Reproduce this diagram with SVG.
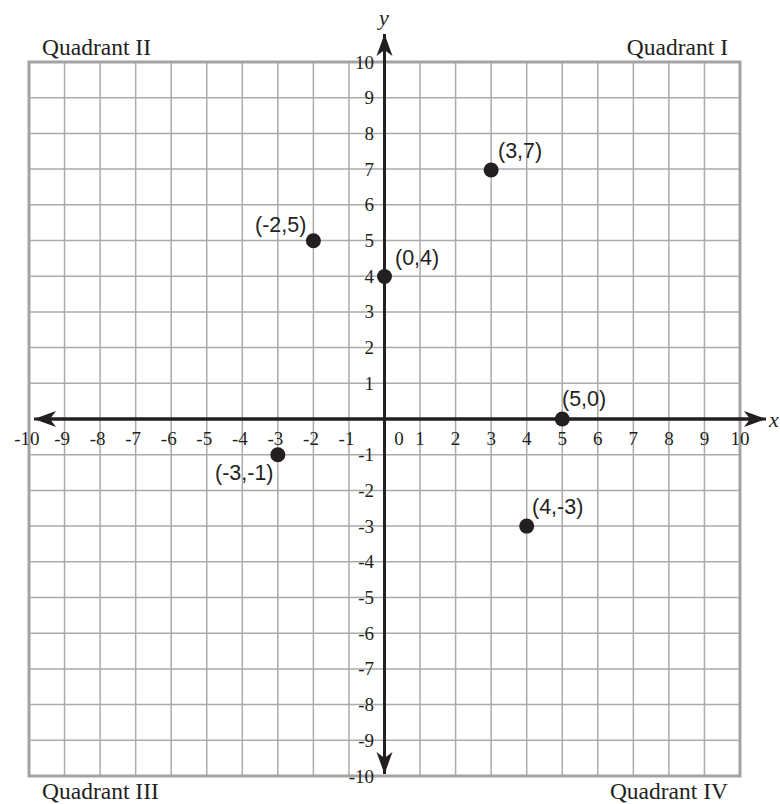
<svg xmlns="http://www.w3.org/2000/svg" width="780" height="804" viewBox="0 0 780 804">
<style>
.grid{stroke:#ababab;stroke-width:1.5;fill:none}
.border{stroke:#a3a3a3;stroke-width:3;fill:none}
.axis{stroke:#231f20;stroke-width:3;fill:none}
.tick{font-family:"Liberation Serif","Times New Roman",serif;font-size:19px;fill:#231f20}
.quad{font-family:"Liberation Serif","Times New Roman",serif;font-size:23.5px;fill:#231f20}
.var{font-family:"Liberation Serif","Times New Roman",serif;font-style:italic;font-size:22px;fill:#231f20}
.plabel{font-family:"Liberation Sans",Arial,sans-serif;font-size:21.5px;fill:#231f20}
.dot{fill:#231f20}
</style>
<defs>
<marker id="arr" viewBox="0 0 24 18" refX="22" refY="9" markerWidth="24" markerHeight="18" markerUnits="userSpaceOnUse" orient="auto">
<path d="M22,9 L0,1 L6,9 L0,17 Z" fill="#231f20"/>
</marker>
</defs>
<rect width="780" height="804" fill="#ffffff"/>
<g id="grid">
<path class="grid" d="M64.55,62V776M100.1,62V776M135.65,62V776M171.2,62V776M206.75,62V776M242.3,62V776M277.85,62V776M313.4,62V776M348.95,62V776M420.05,62V776M455.6,62V776M491.15,62V776M526.7,62V776M562.25,62V776M597.8,62V776M633.35,62V776M668.9,62V776M704.45,62V776"/>
<path class="grid" d="M29,97.7H740M29,133.4H740M29,169.1H740M29,204.8H740M29,240.5H740M29,276.2H740M29,311.9H740M29,347.6H740M29,383.3H740M29,454.7H740M29,490.4H740M29,526.1H740M29,561.8H740M29,597.5H740M29,633.2H740M29,668.9H740M29,704.6H740M29,740.3H740"/>
<rect class="border" x="29" y="62" width="711" height="714"/>
</g>
<g id="connectors">
<line class="axis" x1="50" y1="419" x2="766" y2="419" marker-end="url(#arr)"/>
<line class="axis" x1="750" y1="419" x2="34" y2="419" marker-end="url(#arr)"/>
<line class="axis" x1="384.5" y1="760" x2="384.5" y2="34" marker-end="url(#arr)"/>
<line class="axis" x1="384.5" y1="60" x2="384.5" y2="774" marker-end="url(#arr)"/>
</g>
<g id="x-labels" class="tick">
<text x="39.5" y="445" text-anchor="end">-10</text>
<text x="70" y="445" text-anchor="end">-9</text>
<text x="105.6" y="445" text-anchor="end">-8</text>
<text x="141.1" y="445" text-anchor="end">-7</text>
<text x="176.7" y="445" text-anchor="end">-6</text>
<text x="212.2" y="445" text-anchor="end">-5</text>
<text x="247.8" y="445" text-anchor="end">-4</text>
<text x="283.3" y="445" text-anchor="end">-3</text>
<text x="318.9" y="445" text-anchor="end">-2</text>
<text x="354.4" y="445" text-anchor="end">-1</text>
<text x="399" y="445" text-anchor="middle">0</text>
<text x="420.05" y="445" text-anchor="middle">1</text>
<text x="455.6" y="445" text-anchor="middle">2</text>
<text x="491.15" y="445" text-anchor="middle">3</text>
<text x="526.7" y="445" text-anchor="middle">4</text>
<text x="562.25" y="445" text-anchor="middle">5</text>
<text x="597.8" y="445" text-anchor="middle">6</text>
<text x="633.35" y="445" text-anchor="middle">7</text>
<text x="668.9" y="445" text-anchor="middle">8</text>
<text x="704.45" y="445" text-anchor="middle">9</text>
<text x="740" y="445" text-anchor="middle">10</text>
</g>
<g id="y-labels" class="tick" text-anchor="end">
<text x="374" y="68.5">10</text>
<text x="374" y="104.2">9</text>
<text x="374" y="139.9">8</text>
<text x="374" y="175.6">7</text>
<text x="374" y="211.3">6</text>
<text x="374" y="247">5</text>
<text x="374" y="282.7">4</text>
<text x="374" y="318.4">3</text>
<text x="374" y="354.1">2</text>
<text x="374" y="389.8">1</text>
<text x="374" y="461.2">-1</text>
<text x="374" y="496.9">-2</text>
<text x="374" y="532.6">-3</text>
<text x="374" y="568.3">-4</text>
<text x="374" y="604">-5</text>
<text x="374" y="639.7">-6</text>
<text x="374" y="675.4">-7</text>
<text x="374" y="711.1">-8</text>
<text x="374" y="746.8">-9</text>
<text x="374" y="782.5">-10</text>
</g>
<g id="axis-names" class="var">
<text x="384" y="25" text-anchor="middle">y</text>
<text x="769" y="427">x</text>
</g>
<g id="quadrants" class="quad">
<text x="42" y="55">Quadrant II</text>
<text x="728" y="55" text-anchor="end">Quadrant I</text>
<text x="42" y="799">Quadrant III</text>
<text x="728" y="799" text-anchor="end">Quadrant IV</text>
</g>
<g id="p-3-7"><circle class="dot" cx="491.15" cy="170" r="7.5"/><text class="plabel" x="498" y="158">(3,7)</text></g>
<g id="p-m2-5"><circle class="dot" cx="313.4" cy="240.8" r="7.5"/><text class="plabel" x="255" y="232">(-2,5)</text></g>
<g id="p-0-4"><circle class="dot" cx="384.5" cy="276.5" r="7.5"/><text class="plabel" x="395" y="265">(0,4)</text></g>
<g id="p-5-0"><circle class="dot" cx="562.25" cy="419" r="7.5"/><text class="plabel" x="562" y="406">(5,0)</text></g>
<g id="p-m3-m1"><circle class="dot" cx="277.85" cy="454.7" r="7.5"/><text class="plabel" x="215" y="480">(-3,-1)</text></g>
<g id="p-4-m3"><circle class="dot" cx="526.7" cy="526.1" r="7.5"/><text class="plabel" x="532" y="514">(4,-3)</text></g>
</svg>
